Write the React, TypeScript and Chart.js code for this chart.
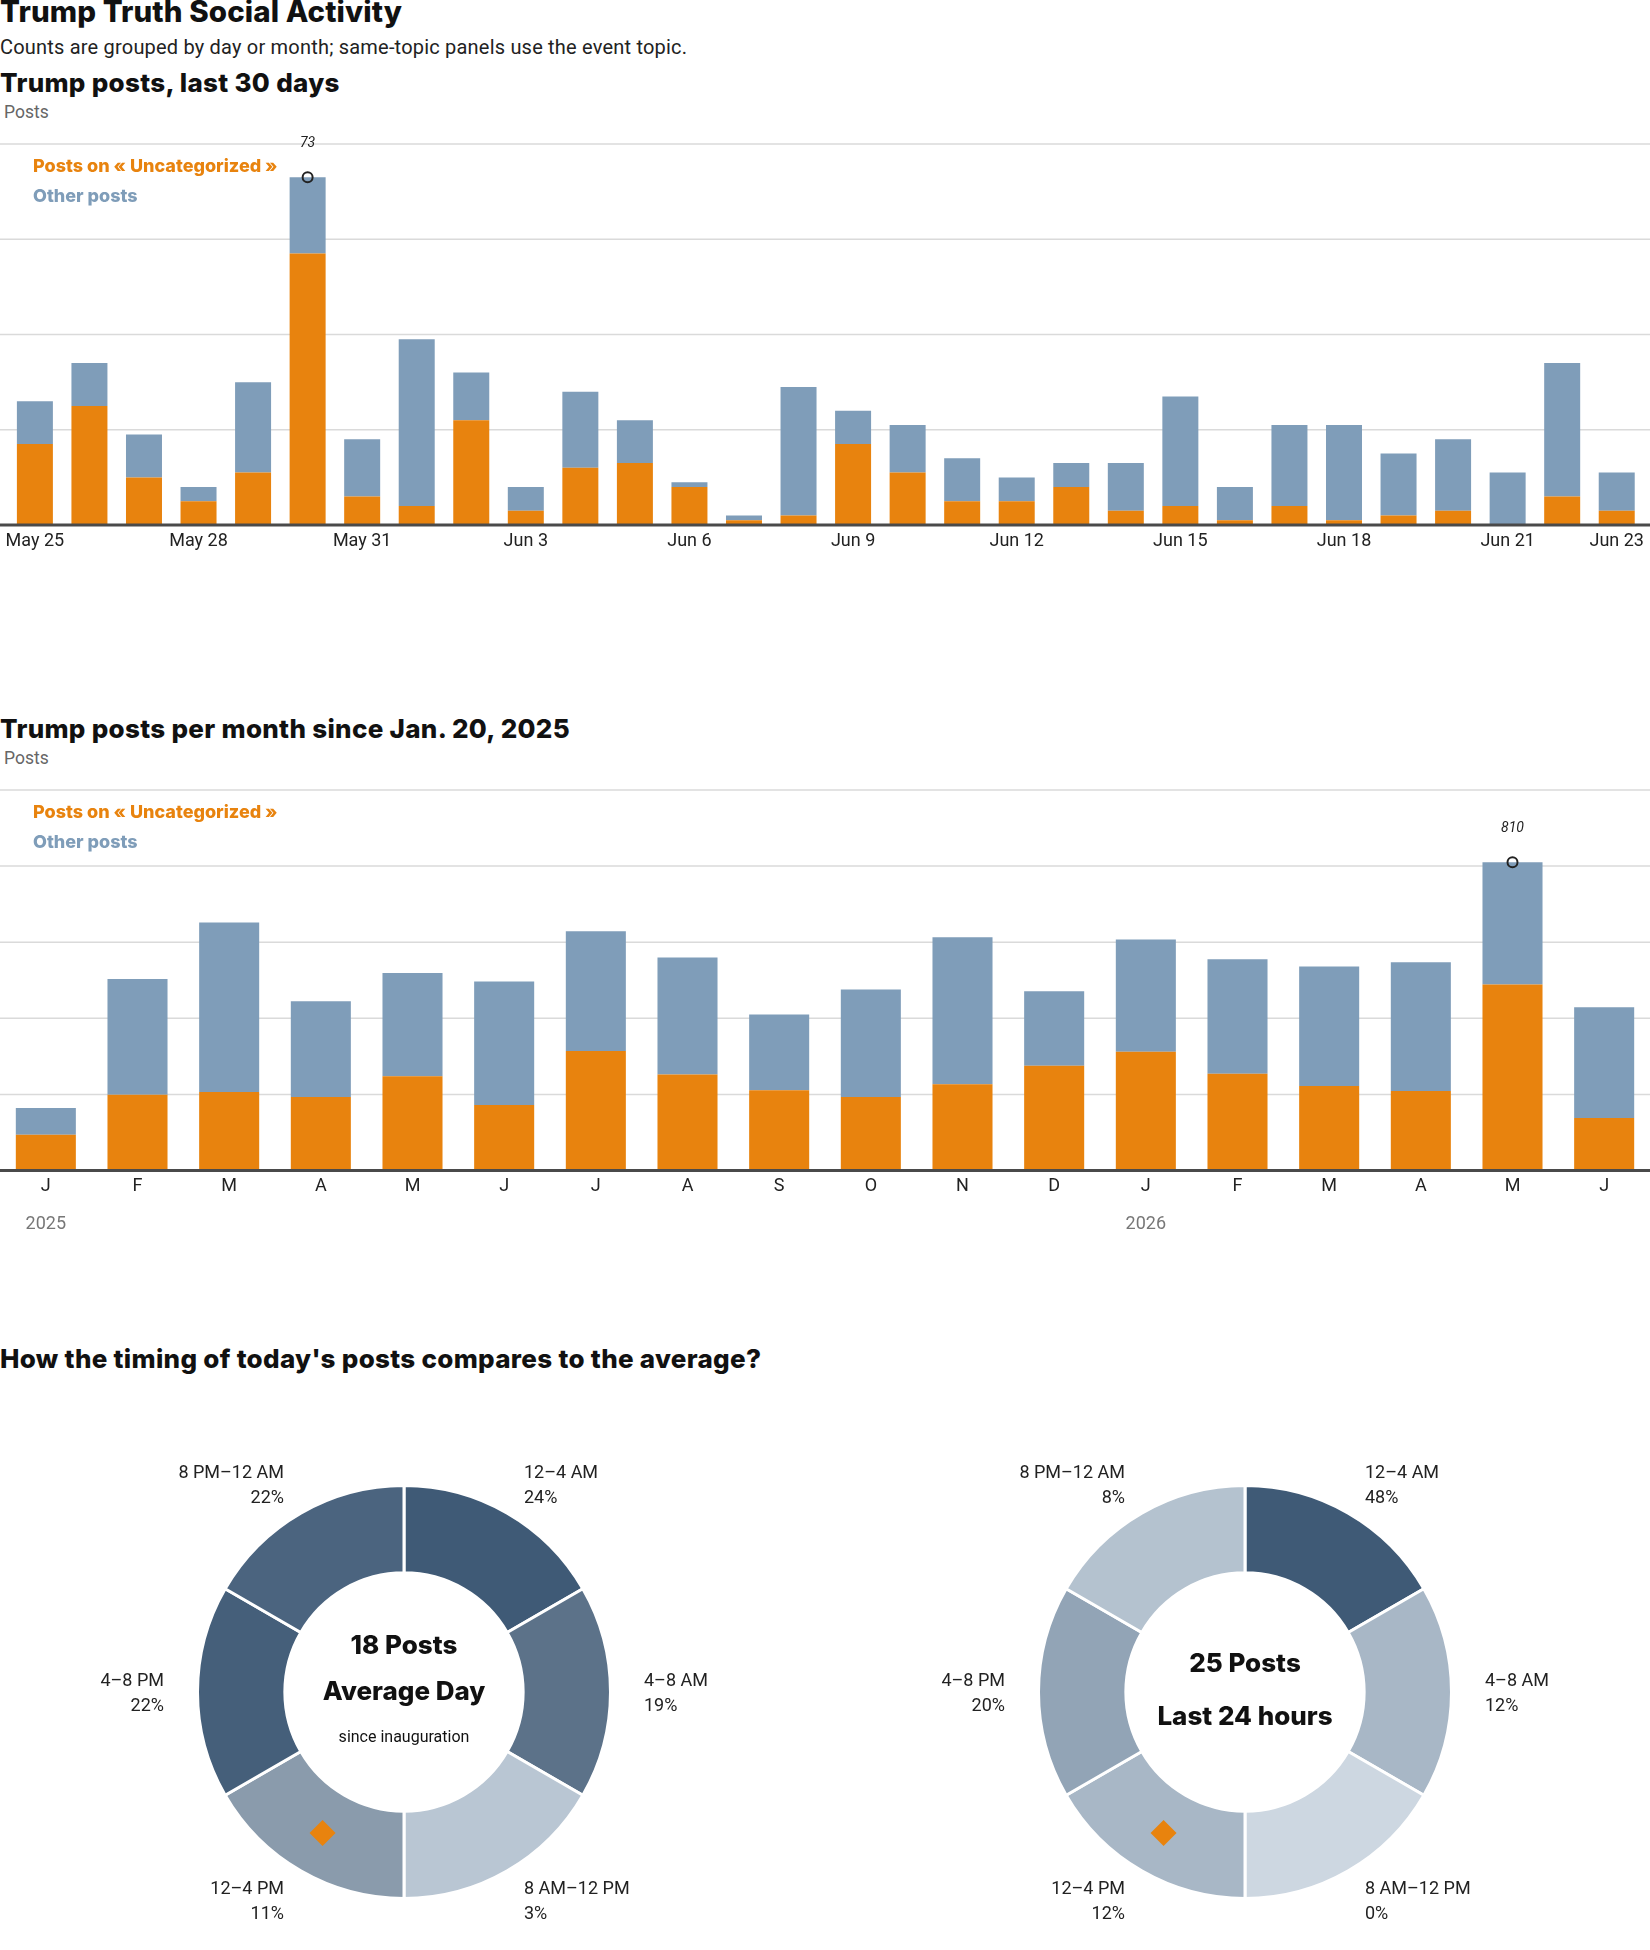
import React, { useEffect, useRef } from 'react';
import { Chart, registerables } from 'chart.js';

Chart.register(...registerables);

// ---------------- data ----------------
const dayLabels = ['May 25', 'May 26', 'May 27', 'May 28', 'May 29', 'May 30', 'May 31', 'Jun 1', 'Jun 2', 'Jun 3', 'Jun 4', 'Jun 5', 'Jun 6', 'Jun 7', 'Jun 8', 'Jun 9', 'Jun 10', 'Jun 11', 'Jun 12', 'Jun 13', 'Jun 14', 'Jun 15', 'Jun 16', 'Jun 17', 'Jun 18', 'Jun 19', 'Jun 20', 'Jun 21', 'Jun 22', 'Jun 23'];
const dayTickLabels = ['May 25', 'May 28', 'May 31', 'Jun 3', 'Jun 6', 'Jun 9', 'Jun 12', 'Jun 15', 'Jun 18', 'Jun 21', 'Jun 23'];
const dayUncategorized = [17, 25, 10, 5, 11, 57, 6, 4, 22, 3, 12, 13, 8, 1, 2, 17, 11, 5, 5, 8, 3, 4, 1, 4, 1, 2, 3, 0, 6, 3];
const dayOther = [9, 9, 9, 3, 19, 16, 12, 35, 10, 5, 16, 9, 1, 1, 27, 7, 10, 9, 5, 5, 10, 23, 7, 17, 20, 13, 15, 11, 28, 8];
const dayAxisMax = 80;
const dayAxisStep = 20;

const monthLabels = ['J', 'F', 'M', 'A', 'M', 'J', 'J', 'A', 'S', 'O', 'N', 'D', 'J', 'F', 'M', 'A', 'M', 'J'];
const monthYearLabels = ['2025', '', '', '', '', '', '', '', '', '', '', '', '2026', '', '', '', '', ''];
const monthUncategorized = [94, 199, 206, 193, 248, 172, 314, 252, 211, 193, 227, 275, 312, 254, 222, 209, 489, 138];
const monthOther = [70, 304, 446, 252, 271, 325, 315, 308, 199, 283, 386, 196, 295, 301, 314, 338, 321, 291];
const monthAxisMax = 1000;
const monthAxisStep = 200;

const timeBlocks = ['12–4 AM', '4–8 AM', '8 AM–12 PM', '12–4 PM', '4–8 PM', '8 PM–12 AM'];
const blockHours = [4, 4, 4, 4, 4, 4];
const averageShare = [24, 19, 3, 11, 22, 22];
const todayShare = [48, 12, 0, 12, 20, 8];
const averagePostsPerDay = 18;
const last24Posts = 25;
const currentBlock = 3;

// ---------------- styles ----------------
const ORANGE = '#e8830e';
const BLUE = '#7f9db9';
const SANS = 'Roboto, "Noto Sans", sans-serif';
const HEAVY = 'Inter, Roboto, sans-serif';
const averageColors = ['#3f5a76', '#5c7289', '#b9c6d3', '#8a9bac', '#455f7a', '#4b647f'];
const todayColors = ['#3f5a76', '#a8b7c6', '#cdd7e1', '#a8b7c6', '#92a4b6', '#b4c2cf'];

// ---------------- plugins ----------------
const gridPlugin = {
  id: 'fullGrid',
  beforeDatasetsDraw(chart: any, _a: any, opts: any) {
    const y = chart.scales.y;
    const ctx = chart.ctx;
    ctx.save();
    ctx.strokeStyle = '#dadada';
    ctx.lineWidth = 1.5;
    for (let v = opts.step; v <= opts.max; v += opts.step) {
      const py = y.getPixelForValue(v);
      ctx.beginPath();
      ctx.moveTo(0, py);
      ctx.lineTo(chart.width, py);
      ctx.stroke();
    }
    ctx.restore();
  },
  afterDatasetsDraw(chart: any) {
    const y = chart.scales.y;
    const ctx = chart.ctx;
    const py = y.getPixelForValue(0);
    ctx.save();
    ctx.strokeStyle = '#4a4a4a';
    ctx.lineWidth = 3;
    ctx.beginPath();
    ctx.moveTo(0, py);
    ctx.lineTo(chart.width, py);
    ctx.stroke();
    ctx.restore();
  },
};

const peakPlugin = {
  id: 'peak',
  afterDatasetsDraw(chart: any) {
    const a = chart.data.datasets[0].data as number[];
    const b = chart.data.datasets[1].data as number[];
    const totals = a.map((v, i) => v + b[i]);
    let idx = 0;
    totals.forEach((t, i) => { if (t > totals[idx]) idx = i; });
    const x = chart.scales.x.getPixelForValue(idx);
    const y = chart.scales.y.getPixelForValue(totals[idx]);
    const ctx = chart.ctx;
    ctx.save();
    ctx.strokeStyle = '#222';
    ctx.lineWidth = 2;
    ctx.beginPath();
    ctx.arc(x, y, 5, 0, Math.PI * 2);
    ctx.stroke();
    ctx.fillStyle = '#222';
    ctx.font = `italic 14px ${SANS}`;
    ctx.textAlign = 'center';
    ctx.textBaseline = 'alphabetic';
    ctx.fillText(String(totals[idx]), x, y - 30);
    ctx.restore();
  },
};

const legendPlugin = {
  id: 'textLegend',
  afterDraw(chart: any, _a: any, opts: any) {
    const ctx = chart.ctx;
    const top = chart.chartArea.top;
    ctx.save();
    ctx.font = `800 18px ${HEAVY}`;
    ctx.textAlign = 'left';
    ctx.textBaseline = 'alphabetic';
    ctx.fillStyle = ORANGE;
    ctx.fillText(chart.data.datasets[0].label, opts.x, top + 28.2);
    ctx.fillStyle = BLUE;
    ctx.fillText(chart.data.datasets[1].label, opts.x, top + 58.3);
    ctx.restore();
  },
};

const yearPlugin = {
  id: 'years',
  afterDraw(chart: any, _a: any, opts: any) {
    if (!opts.labels) return;
    const ctx = chart.ctx;
    ctx.save();
    ctx.font = `18px ${SANS}`;
    ctx.fillStyle = '#777';
    ctx.textAlign = 'center';
    ctx.textBaseline = 'alphabetic';
    (opts.labels as string[]).forEach((t, i) => {
      if (!t) return;
      ctx.fillText(t, chart.scales.x.getPixelForValue(i), chart.chartArea.bottom + 58);
    });
    ctx.restore();
  },
};

const donutTextPlugin = {
  id: 'donutText',
  afterDatasetsDraw(chart: any, _a: any, opts: any) {
    const ctx = chart.ctx;
    const meta = chart.getDatasetMeta(0);
    const arcs = meta.data as any[];
    const cx = arcs[0].x;
    const cy = arcs[0].y;
    ctx.save();
    // diamond for current block
    const p = arcs[opts.current].getCenterPoint();
    ctx.fillStyle = ORANGE;
    ctx.beginPath();
    ctx.moveTo(p.x, p.y - 13);
    ctx.lineTo(p.x + 13, p.y);
    ctx.lineTo(p.x, p.y + 13);
    ctx.lineTo(p.x - 13, p.y);
    ctx.closePath();
    ctx.fill();
    // center texts
    ctx.fillStyle = '#111';
    ctx.textAlign = 'center';
    ctx.textBaseline = 'alphabetic';
    (opts.center as { text: string; dy: number; font: string }[]).forEach((l) => {
      ctx.font = l.font;
      ctx.fillText(l.text, cx, cy + l.dy);
    });
    // outer labels
    ctx.font = `18px ${SANS}`;
    ctx.fillStyle = '#222';
    const R = 240;
    arcs.forEach((arc, i) => {
      const mid = (arc.startAngle + arc.endAngle) / 2;
      const x = cx + R * Math.cos(mid);
      const y = cy + R * Math.sin(mid);
      ctx.textAlign = Math.cos(mid) > 0 ? 'left' : 'right';
      ctx.fillText(chart.data.labels[i], x, y - 12.7 + 6.4);
      ctx.fillText(`${opts.shares[i]}%`, x, y + 12.7 + 6.4);
    });
    ctx.restore();
  },
};

// ---------------- components ----------------
type BarProps = {
  top: number;
  height: number;
  padTop: number;
  padX: number;
  axisHeight: number;
  labels: string[];
  uncategorized: number[];
  other: number[];
  max: number;
  step: number;
  barPct: number;
  tickFilter?: string[];
  years?: string[];
};

function StackedBars(p: BarProps) {
  const ref = useRef<HTMLCanvasElement>(null);
  useEffect(() => {
    if (!ref.current) return;
    const chart = new Chart(ref.current, {
      type: 'bar',
      data: {
        labels: p.labels,
        datasets: [
          { label: 'Posts on « Uncategorized »', data: p.uncategorized, backgroundColor: ORANGE, stack: 's', barPercentage: p.barPct, categoryPercentage: 1, borderWidth: 0 },
          { label: 'Other posts', data: p.other, backgroundColor: BLUE, stack: 's', barPercentage: p.barPct, categoryPercentage: 1, borderWidth: 0 },
        ],
      },
      options: {
        responsive: false,
        animation: false,
        events: [],
        layout: { padding: { top: p.padTop, left: p.padX, right: p.padX, bottom: 0 } },
        plugins: {
          legend: { display: false },
          tooltip: { enabled: false },
          fullGrid: { max: p.max, step: p.step },
          textLegend: { x: 33 },
          years: { labels: p.years },
        } as any,
        scales: {
          x: {
            stacked: true,
            grid: { display: false, drawTicks: false },
            border: { display: false },
            ticks: {
              autoSkip: false,
              maxRotation: 0,
              padding: 5.5,
              color: '#222',
              font: { family: SANS, size: 18 },
              callback: (_v: any, i: number) => {
                const l = p.labels[i];
                if (!p.tickFilter) return l;
                return p.tickFilter.includes(l) ? l : '';
              },
            },
            afterFit: (s: any) => { s.height = p.axisHeight; },
          },
          y: { stacked: true, display: false, min: 0, max: p.max, ticks: { stepSize: p.step } },
        },
      } as any,
      plugins: [gridPlugin, legendPlugin, peakPlugin, yearPlugin],
    });
    return () => chart.destroy();
  }, []);
  return <canvas ref={ref} width={1650} height={p.height} style={{ position: 'absolute', left: 0, top: p.top }} />;
}

type DonutProps = {
  left: number;
  cx: number;
  shares: number[];
  colors: string[];
  center: { text: string; dy: number; font: string }[];
};

function Donut(p: DonutProps) {
  const ref = useRef<HTMLCanvasElement>(null);
  const W = 825;
  const H = 550;
  const cy = 292;
  useEffect(() => {
    if (!ref.current) return;
    const chart = new Chart(ref.current, {
      type: 'doughnut',
      data: {
        labels: timeBlocks,
        datasets: [{ data: blockHours, backgroundColor: p.colors, borderColor: '#ffffff', borderWidth: 3, hoverOffset: 0 }],
      },
      options: {
        responsive: false,
        animation: false,
        events: [],
        radius: 206.5,
        cutout: '57.7%',
        layout: { padding: { left: p.cx - 210, right: W - p.cx - 210, top: cy - 210, bottom: H - cy - 210 } },
        plugins: {
          legend: { display: false },
          tooltip: { enabled: false },
          donutText: { current: currentBlock, shares: p.shares, center: p.center },
        } as any,
      } as any,
      plugins: [donutTextPlugin],
    });
    return () => chart.destroy();
  }, []);
  return <canvas ref={ref} width={W} height={H} style={{ position: 'absolute', left: p.left, top: 1400 }} />;
}

const headStyle = (top: number, size: number, spacing: number): React.CSSProperties => ({
  position: 'absolute',
  left: 0,
  top,
  fontFamily: HEAVY,
  fontWeight: 800,
  fontSize: size,
  letterSpacing: spacing,
  lineHeight: 1,
  color: '#111',
  whiteSpace: 'nowrap',
});

const smallStyle = (top: number, size: number, color: string, left = 0, spacing = 0): React.CSSProperties => ({
  position: 'absolute',
  left,
  top,
  fontFamily: SANS,
  fontSize: size,
  letterSpacing: spacing,
  lineHeight: 1,
  color,
  whiteSpace: 'nowrap',
});

export default function App() {
  useEffect(() => {
    document.body.style.margin = '0';
  }, []);
  return (
    <div style={{ position: 'relative', width: 1650, height: 1950, background: '#fff', overflow: 'hidden' }}>
      <div style={headStyle(-3.5, 29.5, 0.1)}>Trump Truth Social Activity</div>
      <div style={smallStyle(36.5, 20, '#222', 0, 0.2)}>Counts are grouped by day or month; same-topic panels use the event topic.</div>
      <div style={headStyle(70.3, 26, 0.3)}>Trump posts, last 30 days</div>
      <div style={smallStyle(104.3, 17.5, '#666', 4)}>Posts</div>
      <StackedBars
        top={130}
        height={430}
        padTop={14}
        padX={6}
        axisHeight={35}
        labels={dayLabels}
        uncategorized={dayUncategorized}
        other={dayOther}
        max={dayAxisMax}
        step={dayAxisStep}
        barPct={0.66}
        tickFilter={dayTickLabels}
      />
      <div style={headStyle(716.2, 26, 0.3)}>Trump posts per month since Jan. 20, 2025</div>
      <div style={smallStyle(750.3, 17.5, '#666', 4)}>Posts</div>
      <StackedBars
        top={780}
        height={470}
        padTop={10}
        padX={0}
        axisHeight={79.5}
        labels={monthLabels}
        uncategorized={monthUncategorized}
        other={monthOther}
        max={monthAxisMax}
        step={monthAxisStep}
        barPct={0.655}
        years={monthYearLabels}
      />
      <div style={headStyle(1346, 26, 0.3)}>How the timing of today's posts compares to the average?</div>
      <Donut
        left={0}
        cx={404}
        shares={averageShare}
        colors={averageColors}
        center={[
          { text: `${averagePostsPerDay} Posts`, dy: -38, font: `800 26px ${HEAVY}` },
          { text: 'Average Day', dy: 7.5, font: `800 26px ${HEAVY}` },
          { text: 'since inauguration', dy: 50, font: `16px ${SANS}` },
        ]}
      />
      <Donut
        left={825}
        cx={420}
        shares={todayShare}
        colors={todayColors}
        center={[
          { text: `${last24Posts} Posts`, dy: -20.5, font: `800 26px ${HEAVY}` },
          { text: 'Last 24 hours', dy: 33, font: `800 26px ${HEAVY}` },
        ]}
      />
    </div>
  );
}
